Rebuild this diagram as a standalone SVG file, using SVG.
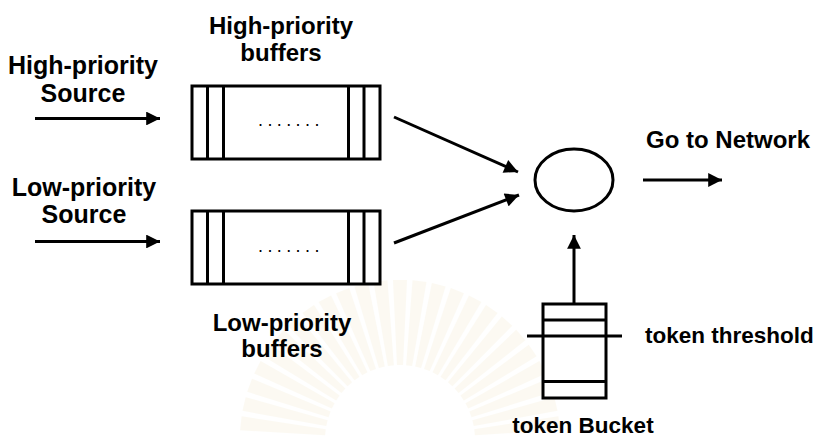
<svg xmlns="http://www.w3.org/2000/svg" xmlns:xlink="http://www.w3.org/1999/xlink" width="828" height="437" viewBox="0 0 828 437">
  <defs>
    <marker id="arrow" viewBox="0 0 10 10" refX="10" refY="5" markerWidth="5.3" markerHeight="4.6" markerUnits="strokeWidth" orient="auto">
      <path d="M0,0 L10,5 L0,10 Z" fill="#000"/>
    </marker>
    <!-- one ray of the pale background sunburst -->
    <path id="ray" d="M-3,-75 L-7,-160 L7,-160 L3,-75 Z"/>
    <style>
      .box { fill: #fff; stroke: #000; stroke-width: 3; }
      .line { fill: none; stroke: #000; stroke-width: 3; }
      .conn { fill: none; stroke: #000; stroke-width: 3; marker-end: url(#arrow); }
      .lbl { font-family: "Liberation Sans", Arial, sans-serif; font-weight: bold; fill: #000; }
      .mid { text-anchor: middle; }
      .s22 { font-size: 22.5px; }
      .s24 { font-size: 24px; }
      .s25 { font-size: 25px; }
      .dots { font-family: "Liberation Sans", Arial, sans-serif; font-size: 18px; fill: #000; letter-spacing: 4.4px; }
      .sun { fill: #f6eed6; opacity: 0.3; }
    </style>
  </defs>
  <rect width="828" height="437" fill="#fff"/>

  <!-- faint background emblem -->
  <g class="sun" transform="translate(400,440)">
    <use xlink:href="#ray" transform="rotate(-84)"/>
    <use xlink:href="#ray" transform="rotate(-77)"/>
    <use xlink:href="#ray" transform="rotate(-70)"/>
    <use xlink:href="#ray" transform="rotate(-63)"/>
    <use xlink:href="#ray" transform="rotate(-56)"/>
    <use xlink:href="#ray" transform="rotate(-49)"/>
    <use xlink:href="#ray" transform="rotate(-42)"/>
    <use xlink:href="#ray" transform="rotate(-35)"/>
    <use xlink:href="#ray" transform="rotate(-28)"/>
    <use xlink:href="#ray" transform="rotate(-21)"/>
    <use xlink:href="#ray" transform="rotate(-14)"/>
    <use xlink:href="#ray" transform="rotate(-7)"/>
    <use xlink:href="#ray"/>
    <use xlink:href="#ray" transform="rotate(7)"/>
    <use xlink:href="#ray" transform="rotate(14)"/>
    <use xlink:href="#ray" transform="rotate(21)"/>
    <use xlink:href="#ray" transform="rotate(28)"/>
    <use xlink:href="#ray" transform="rotate(35)"/>
    <use xlink:href="#ray" transform="rotate(42)"/>
    <use xlink:href="#ray" transform="rotate(49)"/>
    <use xlink:href="#ray" transform="rotate(56)"/>
    <use xlink:href="#ray" transform="rotate(63)"/>
    <use xlink:href="#ray" transform="rotate(70)"/>
    <use xlink:href="#ray" transform="rotate(77)"/>
    <use xlink:href="#ray" transform="rotate(84)"/>
  </g>

  <!-- source labels -->
  <g id="high-source">
    <text class="lbl mid s25" x="83" y="74">High-priority</text>
    <text class="lbl mid s25" x="83" y="102">Source</text>
  </g>
  <g id="low-source">
    <text class="lbl mid s25" x="84" y="196">Low-priority</text>
    <text class="lbl mid s25" x="84" y="223">Source</text>
  </g>

  <!-- high-priority buffer queue -->
  <g id="high-buffers">
    <text class="lbl mid s24" x="281" y="34">High-priority</text>
    <text class="lbl mid s24" x="281" y="61">buffers</text>
    <rect class="box" x="192" y="86" width="188" height="73"/>
    <path class="line" d="M207.5,86 V159 M223.5,86 V159 M348.5,86 V159 M364,86 V159"/>
    <text class="dots" x="258" y="126">.......</text>
  </g>

  <!-- low-priority buffer queue -->
  <g id="low-buffers">
    <rect class="box" x="192" y="211" width="188" height="73"/>
    <path class="line" d="M207.5,211 V284 M223.5,211 V284 M348.5,211 V284 M364,211 V284"/>
    <text class="dots" x="258" y="251.5">.......</text>
    <text class="lbl mid s24" x="282" y="331">Low-priority</text>
    <text class="lbl mid s24" x="282" y="357">buffers</text>
  </g>

  <!-- scheduler -->
  <g id="scheduler">
    <ellipse class="box" cx="574" cy="180" rx="39" ry="31"/>
  </g>

  <g id="network">
    <text class="lbl s24" x="646" y="148">Go to Network</text>
  </g>

  <!-- token bucket -->
  <g id="token-bucket">
    <rect class="box" x="543" y="304" width="63" height="94"/>
    <path class="line" d="M543,320 H606 M543,381.5 H606 M527,336 H622"/>
    <text class="lbl s22" x="645" y="343">token threshold</text>
    <text class="lbl mid s22" x="583" y="433">token Bucket</text>
  </g>

  <!-- connectors -->
  <g id="connectors">
    <line class="conn" x1="35" y1="118.5" x2="160" y2="118.5"/>
    <line class="conn" x1="35" y1="241.5" x2="160" y2="241.5"/>
    <line class="conn" x1="394" y1="117" x2="518" y2="172"/>
    <line class="conn" x1="394" y1="243" x2="519" y2="195"/>
    <line class="conn" x1="643" y1="180" x2="722" y2="180"/>
    <line class="conn" x1="574" y1="304" x2="574" y2="235"/>
  </g>
</svg>
